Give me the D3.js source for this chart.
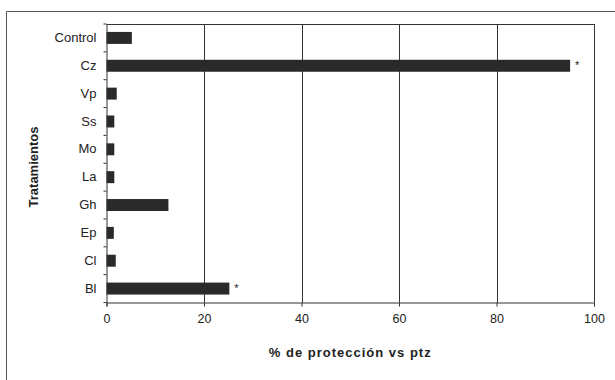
<!DOCTYPE html>
<html><head><meta charset="utf-8">
<script src="https://cdn.jsdelivr.net/npm/d3@7"></script>
<style>body{margin:0;background:#fff}svg{display:block}text{font-family:Arial,"Liberation Sans",sans-serif;fill:#222}</style>
</head><body>
<svg id="c" width="615" height="380"></svg>
<script>
const categories = ["Control","Cz","Vp","Ss","Mo","La","Gh","Ep","Cl","Bl"];
const values = [5.2, 95.1, 2.1, 1.6, 1.6, 1.6, 12.7, 1.5, 1.9, 25.2];
const significant = ["Cz","Bl"];
const xTicks = [0,20,40,60,80,100];
const xTitle = "% de protección vs ptz";
const yTitle = "Tratamientos";

const svg = d3.select("#c");
const L=106.5, R=594, T=24, B=302.5;
const x = d3.scaleLinear().domain([0,100]).range([L,R]);
const y = d3.scaleBand().domain(categories).range([T,B]).paddingInner(0.57).paddingOuter(0.285);
const y0 = d3.scaleBand().domain(categories).range([T,B]).padding(0);

// outer frame
svg.append("line").attr("x1",6.5).attr("x2",615).attr("y1",11.5).attr("y2",11.5).attr("stroke","#555").attr("stroke-width",1);
svg.append("line").attr("x1",6.5).attr("x2",6.5).attr("y1",11.5).attr("y2",380).attr("stroke","#555").attr("stroke-width",1);

// gridlines
svg.append("g").selectAll("line").data(xTicks.slice(1)).join("line")
  .attr("x1",d=>Math.round(x(d))+0.5).attr("x2",d=>Math.round(x(d))+0.5)
  .attr("y1",T).attr("y2",B).attr("stroke","#333").attr("stroke-width",1);
svg.append("line").attr("x1",L).attr("x2",R).attr("y1",T+0.5).attr("y2",T+0.5).attr("stroke","#333");

// bars
svg.append("g").selectAll("rect").data(categories).join("rect")
  .attr("x",x(0)).attr("y",d=>y(d)).attr("width",(d,i)=>x(values[i])-x(0)).attr("height",y.bandwidth())
  .attr("fill","#2a2a2a");

// asterisks
svg.append("g").selectAll("text").data(significant).join("text")
  .attr("x",d=>x(values[categories.indexOf(d)])+5).attr("y",d=>y(d)+9)
  .attr("font-size",11).text("*");

// x axis
const xa = svg.append("g").attr("transform",`translate(0,${B})`)
  .call(d3.axisBottom(x).tickValues(xTicks).tickSize(4).tickPadding(8));
xa.select(".domain").attr("stroke","#333");
xa.selectAll(".tick line").attr("stroke","#333");
xa.selectAll("text").attr("font-size",12.5).attr("fill","#222").attr("font-family","Arial, 'Liberation Sans', sans-serif");

// y axis
const ya = svg.append("g").attr("transform",`translate(${L},0)`)
  .call(d3.axisLeft(y).tickSize(0).tickPadding(10));
ya.select(".domain").attr("stroke","#333");
ya.selectAll("text").attr("font-size",13).attr("fill","#222").attr("font-family","Arial, 'Liberation Sans', sans-serif");
const bounds = categories.map(c=>y0(c)).concat([B]);
svg.append("g").selectAll("line").data(bounds).join("line")
  .attr("x1",L-3).attr("x2",L).attr("y1",d=>d).attr("y2",d=>d).attr("stroke","#333");

// titles
svg.append("text").attr("x",(L+R)/2).attr("y",357).attr("text-anchor","middle")
  .attr("font-size",13).attr("font-weight","bold").attr("letter-spacing",1).text(xTitle);
svg.append("text").attr("transform",`translate(38,167) rotate(-90)`).attr("text-anchor","middle")
  .attr("font-size",13).attr("font-weight","bold").text(yTitle);
</script>
</body></html>
